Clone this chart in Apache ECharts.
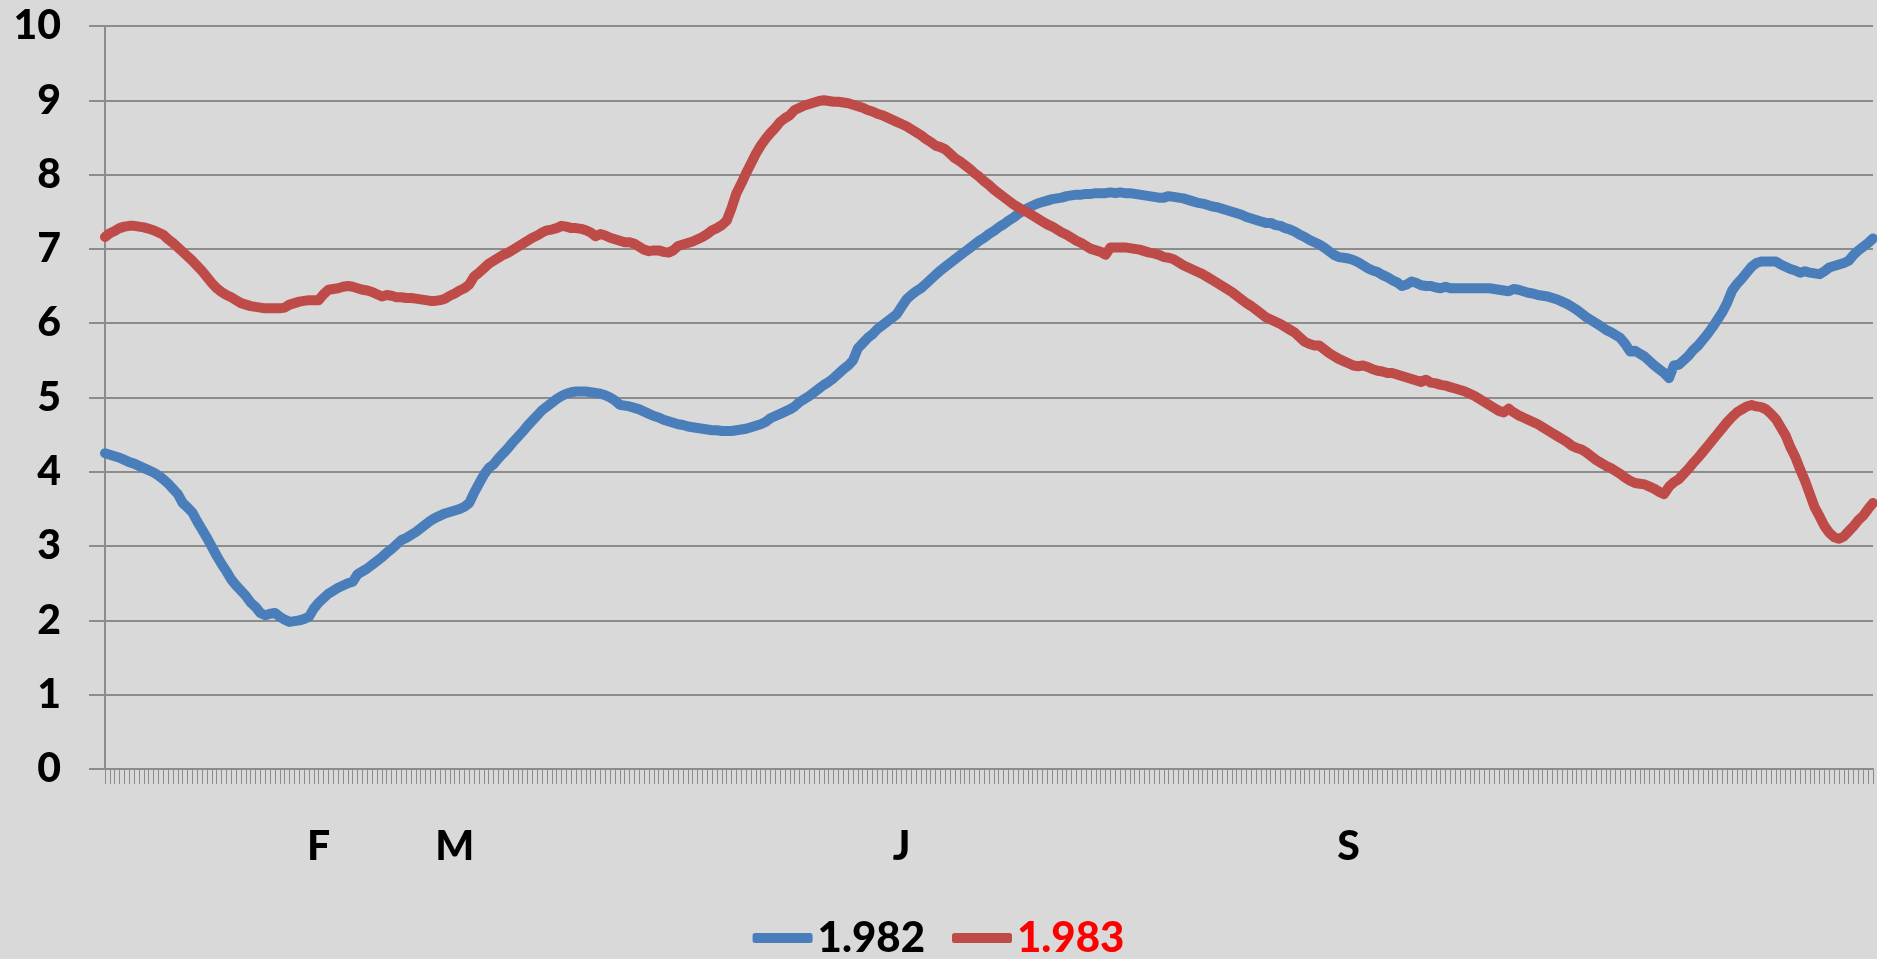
<!DOCTYPE html>
<html>
<head>
<meta charset="utf-8">
<title>1.982 / 1.983</title>
<script src="https://cdn.jsdelivr.net/npm/echarts@6/dist/echarts.min.js"></script>
<style>
  html, body { margin: 0; padding: 0; background: #d9d9d9; }
  #chart { width: 1877px; height: 959px; }
</style>
</head>
<body>
<div id="chart"></div>
<script>
// one value per day, 365 days
const series1982 = [
  4.25, 4.23, 4.21, 4.19, 4.16, 4.13, 4.11, 4.08, 4.05, 4.02,
  3.99, 3.95, 3.90, 3.84, 3.77, 3.70, 3.58, 3.52, 3.45, 3.33,
  3.22, 3.11, 2.99, 2.87, 2.76, 2.66, 2.55, 2.47, 2.40, 2.33,
  2.24, 2.18, 2.10, 2.07, 2.09, 2.10, 2.05, 2.01, 1.98, 1.99,
  2.00, 2.02, 2.05, 2.16, 2.24, 2.30, 2.36, 2.40, 2.44, 2.47,
  2.50, 2.52, 2.62, 2.66, 2.70, 2.75, 2.80, 2.85, 2.91, 2.96,
  3.02, 3.08, 3.11, 3.15, 3.19, 3.24, 3.29, 3.34, 3.38, 3.41,
  3.44, 3.46, 3.48, 3.50, 3.53, 3.58, 3.72, 3.84, 3.96, 4.05,
  4.10, 4.18, 4.25, 4.32, 4.40, 4.47, 4.54, 4.62, 4.69, 4.76,
  4.83, 4.88, 4.93, 4.98, 5.02, 5.05, 5.07, 5.08, 5.08, 5.08,
  5.07, 5.06, 5.05, 5.03, 5.00, 4.96, 4.90, 4.89, 4.88, 4.86,
  4.84, 4.81, 4.78, 4.75, 4.73, 4.70, 4.68, 4.66, 4.64, 4.63,
  4.61, 4.60, 4.59, 4.58, 4.57, 4.56, 4.56, 4.55, 4.55, 4.55,
  4.56, 4.57, 4.58, 4.60, 4.62, 4.64, 4.67, 4.72, 4.75, 4.78,
  4.81, 4.84, 4.88, 4.94, 4.98, 5.02, 5.07, 5.12, 5.17, 5.21,
  5.26, 5.32, 5.38, 5.43, 5.50, 5.66, 5.73, 5.80, 5.85, 5.92,
  5.97, 6.02, 6.07, 6.12, 6.22, 6.32, 6.38, 6.43, 6.47, 6.53,
  6.59, 6.65, 6.71, 6.76, 6.81, 6.86, 6.91, 6.96, 7.01, 7.06,
  7.11, 7.15, 7.20, 7.24, 7.29, 7.33, 7.38, 7.42, 7.47, 7.51,
  7.55, 7.58, 7.61, 7.63, 7.65, 7.67, 7.68, 7.69, 7.71, 7.72,
  7.73, 7.73, 7.74, 7.74, 7.75, 7.75, 7.75, 7.76, 7.75, 7.76,
  7.75, 7.75, 7.74, 7.73, 7.72, 7.71, 7.70, 7.69, 7.69, 7.71,
  7.70, 7.69, 7.68, 7.66, 7.64, 7.62, 7.61, 7.59, 7.57, 7.56,
  7.54, 7.52, 7.50, 7.48, 7.46, 7.43, 7.41, 7.39, 7.37, 7.35,
  7.35, 7.32, 7.31, 7.28, 7.26, 7.23, 7.19, 7.16, 7.12, 7.09,
  7.06, 7.02, 6.97, 6.92, 6.89, 6.88, 6.87, 6.85, 6.82, 6.78,
  6.74, 6.71, 6.69, 6.65, 6.62, 6.58, 6.55, 6.50, 6.52, 6.56,
  6.54, 6.51, 6.50, 6.50, 6.48, 6.47, 6.49, 6.47, 6.47, 6.47,
  6.47, 6.47, 6.47, 6.47, 6.47, 6.47, 6.46, 6.45, 6.44, 6.43,
  6.46, 6.45, 6.43, 6.41, 6.40, 6.38, 6.37, 6.36, 6.34, 6.32,
  6.29, 6.26, 6.22, 6.18, 6.13, 6.08, 6.04, 6.00, 5.96, 5.91,
  5.88, 5.84, 5.80, 5.72, 5.62, 5.63, 5.59, 5.55, 5.49, 5.43,
  5.38, 5.33, 5.26, 5.43, 5.44, 5.50, 5.56, 5.64, 5.70, 5.78,
  5.86, 5.95, 6.05, 6.15, 6.28, 6.44, 6.53, 6.60, 6.68, 6.76,
  6.81, 6.83, 6.83, 6.83, 6.83, 6.79, 6.76, 6.73, 6.71, 6.68,
  6.70, 6.68, 6.67, 6.66, 6.70, 6.75, 6.77, 6.79, 6.81, 6.84,
  6.92, 6.98, 7.03, 7.08, 7.14
];

const series1983 = [
  7.16, 7.21, 7.24, 7.28, 7.30, 7.31, 7.31, 7.30, 7.29, 7.27,
  7.25, 7.22, 7.19, 7.13, 7.08, 7.02, 6.96, 6.90, 6.84, 6.77,
  6.70, 6.62, 6.54, 6.47, 6.42, 6.38, 6.35, 6.31, 6.27, 6.25,
  6.23, 6.22, 6.21, 6.20, 6.20, 6.20, 6.20, 6.21, 6.25, 6.27,
  6.29, 6.30, 6.31, 6.31, 6.31, 6.39, 6.45, 6.46, 6.47, 6.49,
  6.50, 6.49, 6.47, 6.45, 6.44, 6.42, 6.39, 6.36, 6.38, 6.37,
  6.35, 6.35, 6.34, 6.34, 6.33, 6.32, 6.31, 6.30, 6.30, 6.31,
  6.33, 6.37, 6.40, 6.44, 6.47, 6.52, 6.63, 6.68, 6.74, 6.80,
  6.84, 6.88, 6.92, 6.95, 6.99, 7.03, 7.07, 7.11, 7.15, 7.18,
  7.22, 7.25, 7.26, 7.28, 7.31, 7.30, 7.28, 7.28, 7.27, 7.25,
  7.22, 7.17, 7.20, 7.18, 7.15, 7.13, 7.11, 7.09, 7.09, 7.07,
  7.03, 6.99, 6.97, 6.98, 6.98, 6.96, 6.95, 6.98, 7.04, 7.06,
  7.08, 7.10, 7.13, 7.16, 7.20, 7.25, 7.28, 7.32, 7.38, 7.55,
  7.75, 7.88, 8.02, 8.15, 8.28, 8.39, 8.48, 8.56, 8.63, 8.71,
  8.76, 8.80, 8.87, 8.90, 8.93, 8.95, 8.97, 8.99, 9.00, 8.99,
  8.98, 8.98, 8.97, 8.96, 8.94, 8.92, 8.90, 8.87, 8.85, 8.82,
  8.80, 8.77, 8.74, 8.71, 8.68, 8.65, 8.61, 8.57, 8.53, 8.48,
  8.44, 8.39, 8.37, 8.34, 8.28, 8.22, 8.18, 8.13, 8.08, 8.02,
  7.97, 7.91, 7.86, 7.80, 7.75, 7.70, 7.65, 7.60, 7.56, 7.52,
  7.49, 7.45, 7.41, 7.37, 7.33, 7.30, 7.26, 7.22, 7.19, 7.15,
  7.11, 7.08, 7.04, 7.00, 6.98, 6.96, 6.92, 7.02, 7.02, 7.02,
  7.02, 7.01, 7.00, 6.99, 6.97, 6.95, 6.94, 6.92, 6.89, 6.88,
  6.86, 6.82, 6.78, 6.75, 6.72, 6.69, 6.66, 6.62, 6.58, 6.54,
  6.50, 6.46, 6.42, 6.37, 6.32, 6.27, 6.23, 6.18, 6.13, 6.08,
  6.05, 6.02, 5.99, 5.95, 5.91, 5.87, 5.81, 5.75, 5.72, 5.70,
  5.70, 5.65, 5.60, 5.56, 5.52, 5.49, 5.46, 5.43, 5.42, 5.43,
  5.41, 5.38, 5.36, 5.35, 5.33, 5.33, 5.31, 5.29, 5.27, 5.25,
  5.23, 5.21, 5.24, 5.20, 5.19, 5.17, 5.16, 5.14, 5.12, 5.10,
  5.08, 5.05, 5.02, 4.98, 4.94, 4.90, 4.86, 4.82, 4.80, 4.85,
  4.80, 4.76, 4.73, 4.70, 4.67, 4.64, 4.60, 4.56, 4.52, 4.48,
  4.44, 4.40, 4.35, 4.32, 4.30, 4.26, 4.21, 4.16, 4.12, 4.08,
  4.05, 4.01, 3.97, 3.92, 3.88, 3.85, 3.84, 3.83, 3.80, 3.77,
  3.73, 3.70, 3.80, 3.86, 3.90, 3.97, 4.04, 4.12, 4.19, 4.27,
  4.35, 4.43, 4.51, 4.59, 4.67, 4.74, 4.80, 4.84, 4.88, 4.90,
  4.88, 4.87, 4.84, 4.78, 4.71, 4.60, 4.49, 4.33, 4.20, 4.03,
  3.88, 3.70, 3.52, 3.40, 3.27, 3.18, 3.12, 3.10, 3.13, 3.20,
  3.27, 3.35, 3.41, 3.50, 3.58
];

// month letters and the day they sit under
const labelDays = [44, 72, 164, 256];
const labelText = ['F', 'M', 'J', 'S'];

const days = series1982.map((v, i) => i + 1);
const font = 'Lato, "Open Sans", sans-serif';
const gray = '#8c8c8c';

const chart = echarts.init(document.getElementById('chart'));
chart.setOption({
  backgroundColor: '#d9d9d9',
  animation: false,
  grid: { left: 105, right: 4, top: 26, bottom: 190, containLabel: false },
  legend: {
    top: 917,
    left: 'center',
    padding: 0,
    icon: 'roundRect',
    itemWidth: 60,
    itemHeight: 10,
    itemGap: 27,
    textStyle: { fontFamily: font, fontWeight: 900, fontSize: 42 },
    data: [
      { name: '1.982', textStyle: { color: '#000000' } },
      { name: '1.983', textStyle: { color: '#ff0000' } }
    ]
  },
  xAxis: {
    type: 'category',
    boundaryGap: false,
    data: days,
    axisLine: { lineStyle: { color: gray, width: 2 } },
    axisTick: { show: true, interval: 0, length: 15, lineStyle: { color: gray, width: 1 } },
    axisLabel: {
      interval: (idx) => labelDays.includes(idx),
      formatter: (val, idx) => {
        const k = labelDays.indexOf(idx);
        return k >= 0 ? labelText[k] : '';
      },
      margin: 57,
      color: '#000',
      fontFamily: font,
      fontWeight: 900,
      fontSize: 41
    },
    splitLine: { show: false }
  },
  yAxis: {
    type: 'value',
    min: 0,
    max: 10,
    interval: 1,
    axisLine: { show: true, lineStyle: { color: gray, width: 2 } },
    axisTick: { show: true, length: 16, lineStyle: { color: gray, width: 2 } },
    axisLabel: {
      margin: 44,
      color: '#000',
      fontFamily: font,
      fontWeight: 900,
      fontSize: 41
    },
    splitLine: { lineStyle: { color: gray, width: 2 } }
  },
  series: [
    {
      name: '1.982',
      type: 'line',
      data: series1982,
      showSymbol: false,
      color: '#4a7ebb',
      lineStyle: { width: 10, cap: 'round', join: 'round' }
    },
    {
      name: '1.983',
      type: 'line',
      data: series1983,
      showSymbol: false,
      color: '#be4b48',
      lineStyle: { width: 10, cap: 'round', join: 'round' }
    }
  ]
});
</script>
</body>
</html>
